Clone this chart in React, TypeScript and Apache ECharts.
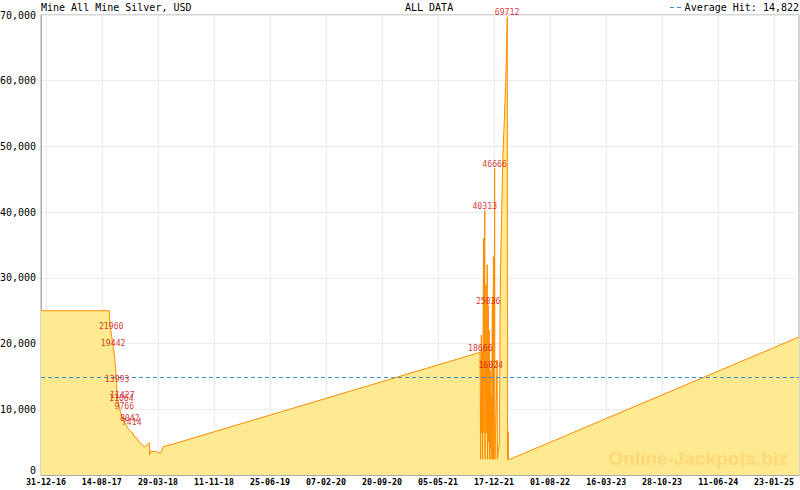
import React, { useEffect, useRef } from 'react';
import * as echarts from 'echarts';

const titleText = 'Mine All Mine Silver, USD';
const periodText = 'ALL DATA';
const averageHit = 14822;
const watermarkText = 'Online-Jackpots.biz';

const xRange = ['2016-12-11', '2025-05-04'];
const yMin = 0;
const yMax = 70000;
const yStep = 10000;

const xTickDates = [
  '2016-12-31', '2017-08-14', '2018-03-29', '2018-11-11', '2019-06-25', '2020-02-07', '2020-09-20',
  '2021-05-05', '2021-12-17', '2022-08-01', '2023-03-16', '2023-10-28', '2024-06-11', '2025-01-23',
];

const jackpotDates = [
  '2016-12-11', '2017-09-13', '2017-09-16', '2017-09-21', '2017-09-29', '2017-10-05', '2017-10-10',
  '2017-10-13', '2017-10-15', '2017-10-21', '2017-10-26', '2017-11-01', '2017-11-09', '2017-11-17',
  '2017-11-28', '2017-12-09', '2017-12-19', '2017-12-22', '2018-01-02', '2018-01-07', '2018-01-15',
  '2018-01-25', '2018-02-03', '2018-02-14', '2018-02-22', '2018-02-23', '2018-03-02', '2018-03-13',
  '2018-03-24', '2018-03-29', '2018-04-09', '2018-04-19', '2018-05-03', '2018-05-26',
  '2021-10-22', '2021-10-24', '2021-10-27', '2021-10-28', '2021-10-31', '2021-11-01', '2021-11-05',
  '2021-11-06', '2021-11-10', '2021-11-11', '2021-11-15', '2021-11-16', '2021-11-20', '2021-11-21',
  '2021-11-24', '2021-11-25', '2021-11-28', '2021-11-29', '2021-12-02', '2021-12-03', '2021-12-05',
  '2021-12-06', '2021-12-11', '2021-12-12', '2021-12-15', '2021-12-16', '2021-12-20', '2021-12-21',
  '2021-12-30', '2021-12-31', '2022-01-08', '2022-01-12', '2022-01-22', '2022-01-28', '2022-02-03',
  '2022-02-07', '2022-02-09', '2022-02-10', '2022-02-13', '2022-02-14', '2025-05-04',
];
const jackpotValues = [
  25000, 25000, 22830, 21560, 19520, 17750, 15470,
  13950, 11920, 10900, 9890, 9130, 8370, 7860,
  7100, 6590, 6340, 5830, 5680, 5330, 4920,
  4570, 4310, 4570, 4920, 3040, 3700, 3550,
  3650, 3400, 3300, 4310, 4460, 4670,
  18666, 2400, 21300, 6400, 19000, 2400, 36000,
  6400, 40313, 2400, 29000, 6400, 32000, 2400,
  25836, 5000, 22000, 2400, 16024, 4000, 12000,
  2400, 27000, 2400, 33200, 2400, 46666, 2400,
  17500, 2400, 5000, 30000, 48400, 54000, 60000,
  66500, 69712, 2400, 6600, 2300, 21000,
];

const hitDates = [
  '2017-09-21', '2017-09-29', '2017-10-15', '2017-11-01', '2017-11-05', '2017-11-13', '2017-12-05',
  '2017-12-13', '2021-10-23', '2021-11-10', '2021-11-24', '2021-12-04', '2021-12-20', '2022-02-08',
];
const hitValues = [21960, 19442, 13993, 11064, 11427, 9766, 8042, 7414, 18666, 40313, 25836, 16024, 46666, 69712];

const ts = (d: string) => Date.parse(d + 'T00:00:00Z');
const pad = (n: number) => (n < 10 ? '0' : '') + n;
const fmtDate = (v: number) => {
  const d = new Date(v);
  return pad(d.getUTCDate()) + '-' + pad(d.getUTCMonth() + 1) + '-' + pad(d.getUTCFullYear() % 100);
};
const fmtNum = (v: number) => String(Math.round(v)).replace(/\B(?=(\d{3})+(?!\d))/g, ',');

const MONO = 'DejaVu Sans Mono';

export default function App() {
  const ref = useRef<HTMLDivElement>(null);
  useEffect(() => {
    const chart = echarts.init(ref.current!, null, { renderer: 'svg' });
    const majorTs = xTickDates.map(ts);
    const minorTs: number[] = [];
    for (let i = 0; i < majorTs.length - 1; i++) {
      const s = (majorTs[i + 1] - majorTs[i]) / 7;
      for (let k = 0; k < 7; k++) minorTs.push(majorTs[i] + k * s);
    }
    const last = majorTs.length - 1;
    const lastStep = (majorTs[last] - majorTs[last - 1]) / 7;
    for (let k = 0; k <= 3; k++) minorTs.push(majorTs[last] + k * lastStep);

    const xMin = ts(xRange[0]);
    const xMax = ts(xRange[1]);

    const option: any = {
      animation: false,
      backgroundColor: '#ffffff',
      grid: {
        left: 41, right: 1, top: 15, bottom: 15, containLabel: false, outerBoundsMode: 'none',
        show: true, borderColor: '#aaaaaa', borderWidth: 1, backgroundColor: 'transparent',
      },
      xAxis: [
        {
          type: 'value', min: xMin, max: xMax, position: 'bottom',
          axisLine: { show: true, lineStyle: { color: '#aaaaaa' } },
          axisTick: { show: true, inside: true, length: 4, customValues: majorTs, lineStyle: { color: '#999999' } },
          axisLabel: { show: true, customValues: majorTs, formatter: fmtDate, fontFamily: MONO, fontSize: 8.3, fontWeight: 'bold', color: '#000', margin: 3 },
          splitLine: { show: true, lineStyle: { color: '#ebebeb' } },
        },
        {
          type: 'value', min: xMin, max: xMax, position: 'bottom',
          axisLine: { show: false },
          axisTick: { show: true, inside: true, length: 4, customValues: minorTs, lineStyle: { color: '#999999' } },
          axisLabel: { show: false },
          splitLine: { show: false },
        },
      ],
      yAxis: {
        type: 'value', min: yMin, max: yMax, interval: yStep,
        axisLine: { show: true, lineStyle: { color: '#aaaaaa' } },
        axisTick: { show: false },
        axisLabel: {
          fontFamily: MONO, fontSize: 10, color: '#000', margin: 5,
          formatter: (v: number) => (v === 0 ? '{z|0}' : fmtNum(v)),
          rich: { z: { fontFamily: MONO, fontSize: 10, color: '#000', padding: [0, 0, 10, 0] } },
        },
        splitLine: { show: true, lineStyle: { color: '#ebebeb' } },
      },
      series: [
        {
          type: 'line', xAxisIndex: 0, yAxisIndex: 0,
          data: jackpotDates.map((d, i) => [ts(d), jackpotValues[i]]),
          showSymbol: false, symbol: 'none',
          lineStyle: { color: '#ff8c00', width: 1 },
          areaStyle: { color: '#ffea92', opacity: 1 },
          z: 2,
          markLine: {
            silent: true, symbol: 'none', label: { show: false },
            lineStyle: { color: '#3a8ed0', type: [4, 3], width: 1, opacity: 1 },
            data: [{ yAxis: averageHit }],
          },
        },
        {
          type: 'scatter', xAxisIndex: 1, yAxisIndex: 0,
          data: hitDates.map((d, i) => [ts(d), hitValues[i]]),
          symbolSize: 1, itemStyle: { color: 'rgba(0,0,0,0)' },
          label: {
            show: true, position: 'top', distance: 0,
            formatter: (p: any) => String(p.value[1]),
            color: '#cc0000', fontFamily: MONO, fontSize: 8.2,
          },
          z: 5,
        },
      ],
      graphic: [
        { type: 'text', x: 41, y: 7, z: 10, style: { text: titleText, font: `10px "${MONO}"`, fill: '#000', align: 'left', verticalAlign: 'middle' } },
        { type: 'text', x: 405, y: 7, z: 10, style: { text: periodText, font: `10px "${MONO}"`, fill: '#000', align: 'left', verticalAlign: 'middle' } },
        { type: 'line', z: 10, shape: { x1: 670, y1: 7.5, x2: 684, y2: 7.5 }, style: { stroke: '#3a8ed0', lineWidth: 1, lineDash: [4, 3] } },
        { type: 'text', x: 799, y: 7, z: 10, style: { text: 'Average Hit: ' + fmtNum(averageHit), font: `10px "${MONO}"`, fill: '#000', align: 'right', verticalAlign: 'middle' } },
        { type: 'text', x: 788, y: 458, z: 100, style: { text: watermarkText, font: 'bold 19px "Liberation Sans", Arial, sans-serif', fill: '#ffd877', align: 'right', verticalAlign: 'middle' } },
      ],
    };
    chart.setOption(option);
    return () => chart.dispose();
  }, []);
  return <div ref={ref} style={{ position: 'fixed', left: 0, top: 0, width: 800, height: 490, background: '#fff' }} />;
}
